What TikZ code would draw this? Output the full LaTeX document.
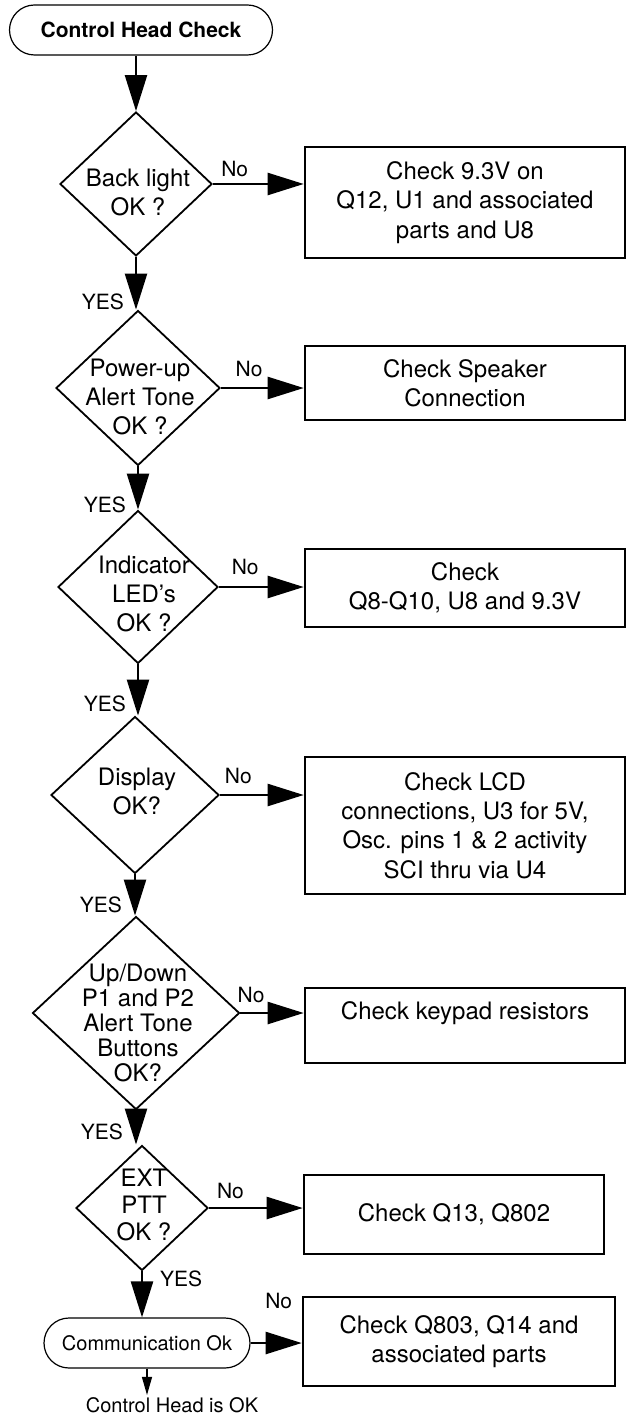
\documentclass[tikz,border=0pt]{standalone}
\usepackage{fontspec}
\setmainfont{TeX Gyre Heros}
\usetikzlibrary{arrows.meta,shapes.geometric}
\tikzset{
  dec/.style={draw, shape=diamond, line width=0.9pt, inner sep=0pt},
  chk/.style={draw, rectangle, line width=1.3pt, align=center, font=\fontsize{12}{14.6}\selectfont},
  term/.style={draw, rectangle, rounded corners=12.5pt, line width=0.6pt, minimum height=25pt},
  dtxt/.style={align=center, inner sep=0pt, font=\fontsize{12}{14.5}\selectfont},
  lbl/.style={font=\fontsize{10.5}{12}\selectfont, inner sep=1pt},
  flow/.style={line width=1.2pt, -{Triangle[length=18pt,width=11pt]}},
}
\begin{document}
\begin{tikzpicture}[x=0.5pt, y=-0.5pt]
  \useasboundingbox (0,0) rectangle (626,1417);

  % start
  \node[term, minimum width=131.5pt, font=\bfseries\fontsize{10.5}{12}\selectfont] (start) at (141,30) {Control Head Check};

  % decisions
  \node[dec, minimum width=76pt, minimum height=72pt] (d1) at (136,184) {};
  \node[dec, minimum width=82pt, minimum height=77.5pt] (d2) at (138,388) {};
  \node[dec, minimum width=80pt, minimum height=76.5pt] (d3) at (138,587) {};
  \node[dec, minimum width=84pt, minimum height=78.5pt] (d4) at (135,795) {};
  \node[dec, minimum width=103.5pt, minimum height=96.5pt] (d5) at (136,1013) {};
  \node[dec, minimum width=66pt, minimum height=62.5pt] (d6) at (142,1208) {};

  \node[dtxt] (d1t) at (138,192) {Back light\\OK ?};
  \node[dtxt] (d2t) at (140,397) {Power-up\\Alert Tone\\OK ?};
  \node[dtxt] (d3t) at (144,594) {Indicator\\LED’s\\OK ?};
  \node[dtxt] (d4t) at (137,791) {Display\\OK?};
  \node[dtxt, font=\fontsize{12}{12.5}\selectfont] (d5t) at (138,1023) {Up/Down\\P1 and P2\\Alert Tone\\Buttons\\OK?};
  \node[dtxt, font=\fontsize{12}{13.5}\selectfont] (d6t) at (144,1205) {EXT\\PTT\\OK ?};

  % checks
  \node[chk, minimum width=160pt, minimum height=55.5pt] (b1) at (465,202.5) {Check 9.3V on\\Q12, U1 and associated\\parts and U8};
  \node[chk, minimum width=160pt, minimum height=37pt] (b2) at (465,383) {Check Speaker\\Connection};
  \node[chk, minimum width=160pt, minimum height=39pt] (b3) at (465,588) {Check\\Q8-Q10, U8 and 9.3V};
  \node[chk, minimum width=160pt, minimum height=68.5pt] (b4) at (465,825.5) {Check LCD\\connections, U3 for 5V,\\Osc. pins 1 \& 2 activity\\SCI thru via U4};
  \node[chk, minimum width=160pt, minimum height=37.5pt] (b5) at (465,1025.5) {Check keypad resistors\\ \mbox{}};
  \node[chk, minimum width=150pt, minimum height=39.5pt] (b6) at (454,1214.5) {Check Q13, Q802};
  \node[chk, minimum width=156pt, minimum height=44.5pt] (b7) at (459,1341.5) {Check Q803, Q14 and\\associated parts};

  % end
  \node[term, minimum width=103pt, font=\fontsize{10}{12}\selectfont] (t2) at (147,1343) {Communication Ok};
  \node[lbl, font=\fontsize{10}{12}\selectfont] (ok) at (172,1405) {Control Head is OK};

  % yes path
  \draw[flow] (d1.north |- start.south) -- (d1.north);
  \draw[flow] (d1.south) -- (d1.south |- d2.north) node[lbl, pos=0.86, left=4.5pt] {YES};
  \draw[flow] (d2.south) -- (d2.south |- d3.north) node[lbl, pos=0.88, left=4.5pt] {YES};
  \draw[flow] (d3.south) -- (d3.south |- d4.north) node[lbl, pos=0.78, left=4.5pt] {YES};
  \draw[flow] (d4.south) -- (d4.south |- d5.north) node[lbl, pos=0.73, left=5pt] {YES};
  \draw[flow] (d5.south) -- (d5.south |- d6.north) node[lbl, pos=0.63, left=5pt] {YES};
  \draw[flow] (d6.south) -- (d6.south |- t2.north) node[lbl, pos=0.16, right=7.5pt] {YES};
  \draw[line width=0.6pt, -{Triangle[length=9pt,width=5pt]}] (t2.south) -- (t2.south |- ok.north);

  % no path
  \draw[flow] (d1.east) -- (d1.east -| b1.west) node[lbl, pos=0.24, above=2pt] {No};
  \draw[flow] (d2.east) -- (d2.east -| b2.west) node[lbl, pos=0.34, above=4pt] {No};
  \draw[flow] (d3.east) -- (d3.east -| b3.west) node[lbl, pos=0.31, above=4.5pt] {No};
  \draw[flow] (d4.east) -- (d4.east -| b4.west) node[lbl, pos=0.22, above=4pt] {No};
  \draw[flow] (d5.east) -- (d5.east -| b5.west) node[lbl, pos=0.17, above=3.5pt] {No};
  \draw[flow] (d6.east) -- (d6.east -| b6.west) node[lbl, pos=0.23, above=3pt] {No};
  \draw[flow] (t2.east) -- (t2.east -| b7.west) node[lbl, pos=0.55, above=15.5pt] {No};
\end{tikzpicture}
\end{document}
